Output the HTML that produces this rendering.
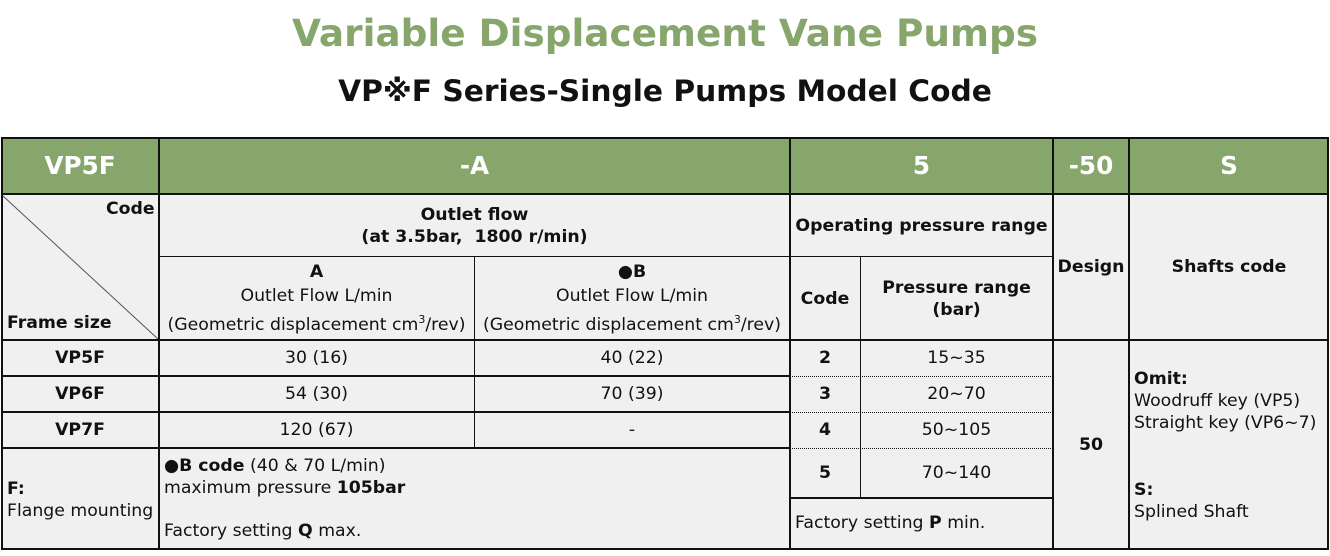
<!DOCTYPE html>
<html><head><meta charset="utf-8"><style>
body{margin:0;width:1330px;height:556px;background:#fff;position:relative;overflow:hidden;font-family:"DejaVu Sans","Liberation Sans",sans-serif;color:#111}
.t{position:absolute;white-space:nowrap;font-size:17.3px}
.c{position:absolute;display:flex;align-items:center;justify-content:center;text-align:center;font-size:17.3px;line-height:22px}
.h{position:absolute;background:#111}
.v{position:absolute;background:#111}
.d{position:absolute;height:0;border-top:1px dotted #111}
.g{background:#87a66c;color:#fff;font-weight:bold;font-size:24.7px}
b{font-weight:bold}
</style></head><body>
<div class="t" style="left:0;width:1330px;text-align:center;top:11px;font-size:37.4px;font-weight:bold;color:#87a66c">Variable Displacement Vane Pumps</div>
<div class="t" style="left:0;width:1330px;text-align:center;top:74px;font-size:29.7px;font-weight:bold;font-family:'DejaVu Sans','Noto Sans CJK JP',sans-serif">VP※F Series-Single Pumps Model Code</div>

<div style="position:absolute;left:1px;top:138px;width:1328px;height:412px;background:#f0f0f0"></div>
<div class="c g" style="left:1px;top:138px;width:158px;height:56px">VP5F</div>
<div class="c g" style="left:159px;top:138px;width:631px;height:56px">-A</div>
<div class="c g" style="left:790px;top:138px;width:263px;height:56px">5</div>
<div class="c g" style="left:1053px;top:138px;width:76px;height:56px">-50</div>
<div class="c g" style="left:1129px;top:138px;width:200px;height:56px">S</div>

<svg style="position:absolute;left:0;top:0" width="1330" height="556"><line x1="3" y1="196" x2="158" y2="339" stroke="#555" stroke-width="1"/></svg>
<div class="t" style="left:106px;top:199px;font-weight:bold">Code</div>
<div class="t" style="left:7px;top:313px;font-weight:bold">Frame size</div>

<div class="c" style="left:159px;top:194px;width:631px;height:63px"><div><b>Outlet flow</b><br><b>(at 3.5bar,&nbsp; 1800 r/min)</b></div></div>
<div class="c" style="left:159px;top:257px;width:315px;height:83px;line-height:24px"><div><b>A</b><br>Outlet Flow L/min<br>(Geometric displacement cm<sup style="font-size:11px">3</sup>/rev)</div></div>
<div class="c" style="left:474px;top:257px;width:316px;height:83px;line-height:24px"><div><b>●B</b><br>Outlet Flow L/min<br>(Geometric displacement cm<sup style="font-size:11px">3</sup>/rev)</div></div>
<div class="c" style="left:790px;top:194px;width:263px;height:63px;font-weight:bold">Operating pressure range</div>
<div class="c" style="left:790px;top:257px;width:70px;height:83px;font-weight:bold">Code</div>
<div class="c" style="left:860px;top:257px;width:193px;height:83px;font-weight:bold">Pressure range<br>(bar)</div>
<div class="c" style="left:1053px;top:194px;width:76px;height:146px;font-weight:bold">Design</div>
<div class="c" style="left:1129px;top:194px;width:200px;height:146px;font-weight:bold">Shafts code</div>

<div class="c" style="left:1px;top:340px;width:158px;height:36px;font-weight:bold">VP5F</div>
<div class="c" style="left:1px;top:376px;width:158px;height:36px;font-weight:bold">VP6F</div>
<div class="c" style="left:1px;top:412px;width:158px;height:36px;font-weight:bold">VP7F</div>
<div class="c" style="left:159px;top:340px;width:315px;height:36px">30 (16)</div>
<div class="c" style="left:159px;top:376px;width:315px;height:36px">54 (30)</div>
<div class="c" style="left:159px;top:412px;width:315px;height:36px">120 (67)</div>
<div class="c" style="left:474px;top:340px;width:316px;height:36px">40 (22)</div>
<div class="c" style="left:474px;top:376px;width:316px;height:36px">70 (39)</div>
<div class="c" style="left:474px;top:412px;width:316px;height:36px">-</div>
<div class="c" style="left:790px;top:340px;width:70px;height:36px;font-weight:bold">2</div>
<div class="c" style="left:790px;top:376px;width:70px;height:36px;font-weight:bold">3</div>
<div class="c" style="left:790px;top:412px;width:70px;height:36px;font-weight:bold">4</div>
<div class="c" style="left:790px;top:448px;width:70px;height:50px;font-weight:bold">5</div>
<div class="c" style="left:860px;top:340px;width:193px;height:36px">15~35</div>
<div class="c" style="left:860px;top:376px;width:193px;height:36px">20~70</div>
<div class="c" style="left:860px;top:412px;width:193px;height:36px">50~105</div>
<div class="c" style="left:860px;top:448px;width:193px;height:50px">70~140</div>
<div class="t" style="left:795px;top:513px">Factory setting <b>P</b> min.</div>
<div class="c" style="left:1053px;top:340px;width:76px;height:210px;font-weight:bold">50</div>
<div class="t" style="left:1134px;top:368px;line-height:22px"><b>Omit:</b><br>Woodruff key (VP5)<br>Straight key (VP6~7)</div>
<div class="t" style="left:1134px;top:479px;line-height:22px"><b>S:</b><br>Splined Shaft</div>
<div class="t" style="left:7px;top:478px;line-height:22px"><b>F:</b><br>Flange mounting</div>
<div class="t" style="left:164px;top:455px;line-height:22px"><b>●B code</b> (40 &amp; 70 L/min)<br>maximum pressure <b>105bar</b></div>
<div class="t" style="left:164px;top:521px">Factory setting <b>Q</b> max.</div>

<div class="h" style="left:1px;top:137px;width:1328px;height:2px"></div>
<div class="h" style="left:1px;top:193px;width:1328px;height:2px"></div>
<div class="h" style="left:159px;top:256px;width:894px;height:1px"></div>
<div class="h" style="left:1px;top:339px;width:1328px;height:2px"></div>
<div class="h" style="left:1px;top:375px;width:789px;height:2px"></div>
<div class="h" style="left:1px;top:411px;width:789px;height:2px"></div>
<div class="h" style="left:1px;top:447px;width:789px;height:2px"></div>
<div class="d" style="left:790px;top:376px;width:263px"></div>
<div class="d" style="left:790px;top:412px;width:263px"></div>
<div class="d" style="left:790px;top:448px;width:263px"></div>
<div class="h" style="left:790px;top:497px;width:263px;height:2px"></div>
<div class="h" style="left:1px;top:548px;width:1328px;height:2px"></div>
<div class="v" style="left:1px;top:137px;width:2px;height:413px"></div>
<div class="v" style="left:1327px;top:137px;width:2px;height:413px"></div>
<div class="v" style="left:158px;top:137px;width:2px;height:413px"></div>
<div class="v" style="left:474px;top:257px;width:1px;height:191px"></div>
<div class="v" style="left:789px;top:137px;width:2px;height:413px"></div>
<div class="v" style="left:860px;top:257px;width:1px;height:241px"></div>
<div class="v" style="left:1052px;top:137px;width:2px;height:413px"></div>
<div class="v" style="left:1128px;top:137px;width:2px;height:413px"></div>
</body></html>
